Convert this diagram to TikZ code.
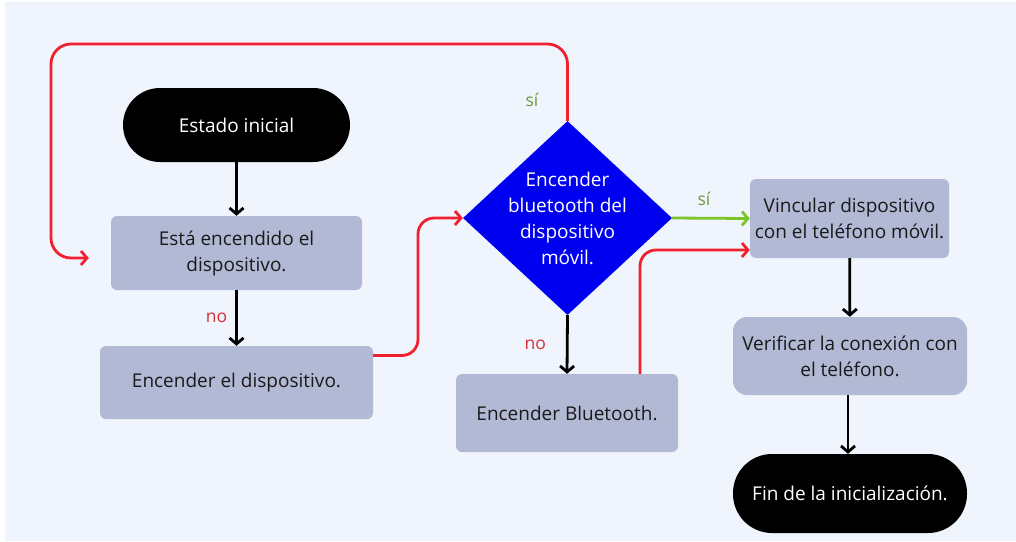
\documentclass[tikz,border=0pt]{standalone}
\usepackage{fontspec}
\setmainfont{Open Sans}
\usetikzlibrary{arrows.meta,shapes.geometric}
\definecolor{pagebg}{HTML}{F0F4FC}
\definecolor{boxfill}{HTML}{B2B9D4}
\definecolor{textdark}{HTML}{1A1A1A}
\definecolor{flowred}{HTML}{F0202E}
\definecolor{flowgreen}{HTML}{7CC42A}
\definecolor{yeslabel}{HTML}{6E9A3C}
\definecolor{nolabel}{HTML}{D8303A}
\definecolor{decision}{HTML}{0000F0}
\begin{document}
\begin{tikzpicture}[x=1pt,y=-1pt,
  font=\fontsize{19}{26}\selectfont,
  stepbox/.style={rectangle, rounded corners=6pt, fill=boxfill, text=textdark,
    align=center, inner sep=0pt},
  terminal/.style={rectangle, fill=black, text=white, align=center, inner sep=0pt},
  decisionbox/.style={diamond, fill=decision, inner sep=0pt,
    minimum width=209pt, minimum height=194pt},
  decisiontext/.style={text=white, align=center, inner sep=0pt},
  flow/.style={line width=2.8pt, -{Straight Barb[length=6pt,width=14pt,line width=2.8pt]}},
  blackflow/.style={flow, draw=black},
  redflow/.style={flow, draw=flowred, rounded corners=16pt},
  greenflow/.style={flow, draw=flowgreen},
  branch/.style={font=\fontsize{17.5}{20}\selectfont, inner sep=0pt}
]
% canvas
\useasboundingbox (0,0) rectangle (1016,541);
\fill[white] (0,0) rectangle (1016,541);
\fill[pagebg] (5,2) rectangle (1016,541);

% nodes
\node[terminal, minimum width=227pt, minimum height=74pt, rounded corners=37pt]
  (start) at (236.5,125) {Estado inicial};
\node[stepbox, minimum width=251pt, minimum height=74pt]
  (ison) at (236.5,253) {Está encendido el\\dispositivo.};
\node[stepbox, minimum width=273pt, minimum height=73pt]
  (poweron) at (236.5,382.5) {Encender el dispositivo.};
\node[decisionbox] (bt) at (567.5,218) {};
\node[decisiontext] (bttext) at (bt.center) {Encender\\bluetooth del\\dispositivo\\móvil.};
\node[stepbox, minimum width=222pt, minimum height=78pt]
  (bton) at (567,413) {Encender Bluetooth.};
\node[stepbox, minimum width=199pt, minimum height=79pt]
  (pair) at (849.5,218.5) {Vincular dispositivo\\con el teléfono móvil.};
\node[stepbox, minimum width=234pt, minimum height=78pt, rounded corners=14pt]
  (check) at (850,356) {Verificar la conexión con\\el teléfono.};
\node[terminal, minimum width=234pt, minimum height=79pt, rounded corners=39pt]
  (finish) at (850,493.5) {Fin de la inicialización.};

% helper points for the routed connectors
\coordinate (loopcorner) at (51,44);
\coordinate (riser) at (418,0);

% connectors
\draw[blackflow] (start) -- (ison);
\draw[blackflow] (ison) -- node[branch, text=nolabel, left=8pt] (no1) {no} (poweron);
\draw[redflow] ([yshift=27pt]poweron.east) -| (riser |- bt.west) -- (bt.west);
\draw[redflow, rounded corners=20pt] (bt.north) |- (loopcorner) |- ([xshift=-22pt,yshift=-5pt]ison.west);
\draw[greenflow] (bt.east) -- (pair.west);
\draw[blackflow] (bt.south) -- node[branch, text=nolabel, left=20pt] (no2) {no} (bton.north);
\draw[redflow] ([xshift=73pt]bton.north) |- ([yshift=-31.5pt]pair.west);
\draw[blackflow] (pair) -- (check);
\draw[blackflow] ([xshift=-2pt]check.south) -- ([xshift=-2pt]finish.north);

% branch labels
\node[branch, text=yeslabel] (yes1) at (532,100) {sí};
\node[branch, text=yeslabel] (yes2) at (704,199) {sí};
\end{tikzpicture}
\end{document}
